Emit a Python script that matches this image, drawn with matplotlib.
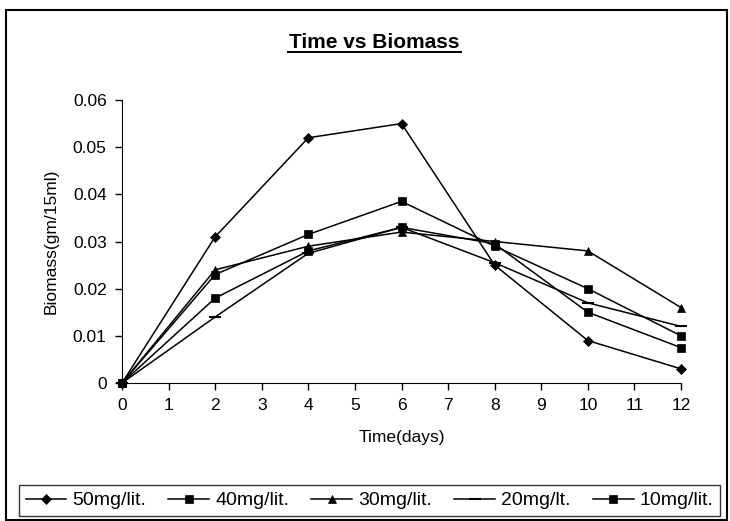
import matplotlib.pyplot as plt
from matplotlib.patches import Rectangle

plt.rcParams['font.family'] = ['Liberation Sans', 'DejaVu Sans']

# Biomass readings every two days for each concentration
days = [0, 2, 4, 6, 8, 10, 12]
c50 = [0, 0.031, 0.052, 0.055, 0.025, 0.009, 0.003]
c40 = [0, 0.023, 0.0315, 0.0385, 0.029, 0.020, 0.010]
c30 = [0, 0.024, 0.029, 0.032, 0.030, 0.028, 0.016]
c20 = [0, 0.014, 0.0275, 0.033, 0.0255, 0.017, 0.012]
c10 = [0, 0.018, 0.028, 0.033, 0.0295, 0.015, 0.0075]

labels = ['50mg/lit.', '40mg/lit.', '30mg/lit.', '20mg/lt.', '10mg/lit.']
series = [c50, c40, c30, c20, c10]
markers = ['D', 's', '^', '_', 's']
msizes = [5, 5.5, 6, 8, 5.5]

fig = plt.figure(figsize=(7.3, 5.21), dpi=100)
W, H = 730, 521
ax = fig.add_axes([122 / W, 1 - 383 / H, (681 - 122) / W, (383 - 100) / H])

for vals, lab, m, ms in zip(series, labels, markers, msizes):
    ax.plot(days, vals, color='black', linewidth=1.1, marker=m, markersize=ms,
            markeredgewidth=1.5 if m == '_' else 0.5, label=lab, clip_on=False)

ax.set_xlim(0, 12)
ax.set_ylim(0, 0.06)
ax.set_xticks(range(0, 13))
ax.set_yticks([0, 0.01, 0.02, 0.03, 0.04, 0.05, 0.06])
ax.set_yticklabels(['0', '0.01', '0.02', '0.03', '0.04', '0.05', '0.06'])
ax.spines['top'].set_visible(False)
ax.spines['right'].set_visible(False)
ax.tick_params(direction='out', length=5, width=1, labelsize=12.5, pad=6)

ax.set_xlabel('Time(days)', fontsize=12.5, labelpad=12)
ax.set_ylabel('Biomass(gm/15ml)', fontsize=12.5, labelpad=10)

fig.text(374 / W, 1 - 42 / H, 'Time vs Biomass', ha='center', va='center',
         fontsize=15, fontweight='bold')
# underline under the title
fig.add_artist(plt.Line2D([288 / W, 461 / W], [1 - 52 / H, 1 - 52 / H],
                          color='black', linewidth=1.4))

leg = fig.legend(loc='center', bbox_to_anchor=(369.5 / W, 1 - 500.5 / H), ncol=5,
                 fontsize=14, frameon=True, fancybox=False, edgecolor='black',
                 handlelength=2.1, handletextpad=0.3, columnspacing=1.15,
                 borderpad=0.35, borderaxespad=0)
leg.get_frame().set_linewidth(1.0)

# chart border
fig.add_artist(Rectangle((6 / W, 1 / H), 721 / W, 510 / H, transform=fig.transFigure,
                         fill=False, edgecolor='black', linewidth=1.5))

fig.savefig('out.png', dpi=100)
